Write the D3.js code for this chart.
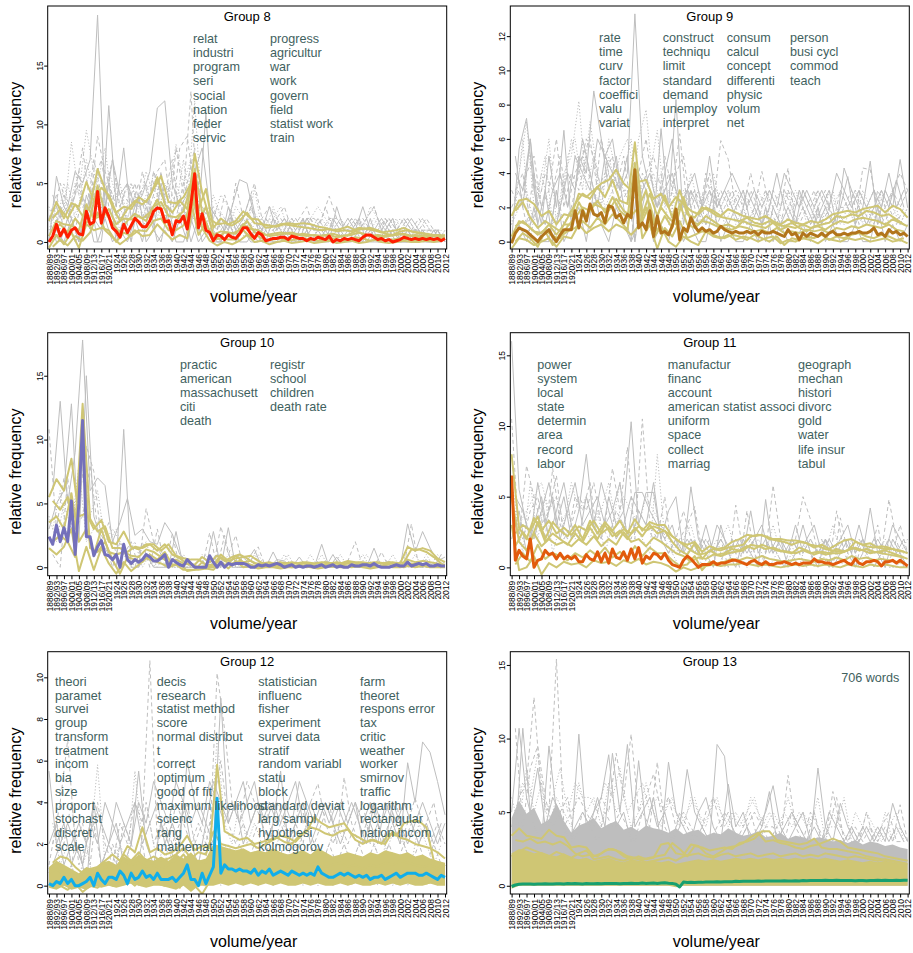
<!DOCTYPE html>
<html>
<head>
<meta charset="utf-8">
<script src="https://cdn.jsdelivr.net/npm/d3@7"></script>
<style>
body { margin: 0; background: #fff; }
svg { font-family: "Liberation Sans", Arial, Helvetica, sans-serif; }
</style>
</head>
<body>
<div id="my_dataviz"></div>
<script>
// x categories: early volumes, then single years
var volumes = ["1888/89","1890/91","1892/93","1894/95","1896/97","1898/99","1900/01","1902/03","1904/05",
  "1906/07","1908/09","1910/11","1912/13","1914/15","1916/17","1918/19","1920/21","1922/23"];
var years = ["1924","1925","1926","1927","1928","1929","1930","1931","1932","1933","1934","1935","1936","1937",
  "1938","1939","1940","1941","1942","1943","1944","1945","1946","1947","1948","1949","1950","1951","1952","1953",
  "1954","1955","1956","1957","1958","1959","1960","1961","1962","1963","1964","1965","1966","1967","1968","1969",
  "1970","1971","1972","1973","1974","1975","1976","1977","1978","1979","1980","1981","1982","1983","1984","1985",
  "1986","1987","1988","1989","1990","1991","1992","1993","1994","1995","1996","1997","1998","1999","2000","2001",
  "2002","2003","2004","2005","2006","2007","2008","2009","2010","2011","2012"];
var categories = volumes.concat(years);

// ---------- Group 8 ----------
var g8Ticks = [0, 5, 10, 15];
var g8Words = [["relat","industri","program","seri","social","nation","feder","servic"],
  ["progress","agricultur","war","work","govern","field","statist work","train"]];
var g8Mean = [0.0,0.5,1.5,0.5,1.1,0.4,1.0,1.2,0.7,0.6, 2.6,1.5,1.7,4.3,1.6,2.9,2.2,1.2,0.9,0.4,
  1.5,0.8,1.4,2.0,1.7,1.3,1.3,1.8,2.6,2.9, 2.8,1.7,1.8,0.6,1.8,1.7,2.2,1.1,3.2,5.8,
  1.2,2.4,1.0,0.8,0.1,0.6,0.5,0.2,0.6,0.4, 0.3,0.7,1.2,1.2,0.7,0.3,0.8,0.6,0.1,0.2,
  0.3,0.3,0.4,0.4,0.2,0.5,0.4,0.3,0.3,0.1, 0.3,0.2,0.4,0.3,0.2,0.5,0.0,0.2,0.1,0.3,
  0.2,0.3,0.2,0.1,0.4,0.6,0.6,0.4,0.2,0.3, 0.1,0.2,0.0,0.1,0.2,0.4,0.3,0.2,0.3,0.2,
  0.3,0.2,0.3,0.2,0.3,0.1,0.3];
var g8KhakiEven = [
  [1.8,3.4,2.0,3.3,3.0,5.1,3.5,4.6,4.0,2.5, 3.0,2.8,3.8,3.4,4.5,5.6,3.4,3.3,3.8,5.0, 2.8,4.5,1.2,2.0,1.5,1.8,2.6,2.0,1.9,1.2,
   1.3,1.5,1.6,1.5,1.6,1.5,1.3,1.2,1.0,1.1, 1.3,1.0,1.1,1.2,1.0,0.7,0.6,0.9,1.0,0.8, 0.7,0.6,0.5,0.4],
  [0.5,1.8,1.5,1.4,1.0,3.2,2.0,2.2,2.8,1.5, 2.0,1.9,2.2,1.8,3.0,3.4,2.2,2.1,2.6,4.8, 1.6,3.0,0.6,0.9,0.8,0.7,1.5,1.1,1.0,0.6,
   0.7,0.8,0.7,0.6,0.7,0.6,0.5,0.6,0.7,0.5, 0.6,0.9,0.7,0.5,0.6,0.5,0.6,0.7,0.5,0.6, 0.5,0.6,0.5,0.6],
  [-0.5,0.6,-0.2,0.8,-0.5,1.5,1.0,1.2,1.0,0.0, 0.8,0.5,1.0,0.9,1.8,2.0,1.0,1.0,1.4,3.5, 0.6,1.6,0.2,0.3,0.2,0.2,1.0,0.4,0.5,0.1,
   0.2,0.3,0.1,0.2,0.3,0.2,0.1,0.2,0.3,0.1, 0.2,0.4,0.3,0.1,0.2,0.1,0.2,0.3,0.2,0.1, 0.2,0.1,0.2,0.3]];
var g8KhakiOdd = [
  [2.0,2.8,2.0,3.2,2.2,3.0,6.2,4.5,3.0,1.8, 2.8,3.5,3.2,3.8,5.5,3.2,2.5,3.5,2.8,7.5, 4.2,2.0,1.5,1.6,1.4,1.8,2.5,1.6,1.5,1.4,
   1.3,1.5,1.4,1.3,1.2,1.1,1.0,1.1,0.9,1.0, 0.9,1.2,1.1,1.0,0.8,0.9,1.0,1.2,0.9,0.8, 0.7,0.6,0.6],
  [-0.4,0.2,-0.3,0.5,0.1,0.8,2.5,1.0,0.4,-0.2, 0.3,1.0,0.5,0.6,1.5,0.8,0.2,0.6,0.3,4.0, 1.2,0.1,-0.3,0.0,-0.2,0.1,0.6,0.0,0.1,-0.2,
   0.0,0.1,-0.1,0.0,0.1,-0.1,0.0,0.1,-0.1,0.0, 0.1,-0.1,0.0,0.2,0.0,-0.1,0.0,0.1,0.0,0.0, 0.1,0.0,0.1],
  [1.0,1.5,0.8,2.0,1.2,2.0,4.8,2.5,1.6,0.8, 1.8,2.4,2.0,2.5,3.6,2.0,1.0,2.3,1.6,6.2, 2.5,0.9,0.4,0.8,0.7,1.0,1.8,0.8,0.7,0.5,
   0.6,0.7,0.8,0.6,0.5,0.6,0.5,0.6,0.4,0.5, 0.6,0.8,0.6,0.5,0.4,0.5,0.6,0.7,0.5,0.4, 0.4,0.5,0.3]];
var g8GrayEven = [
  [0,5.6,3,2,0,4,2,1,11.6,3, 8,2,4,3,1,5,2,1,3,0, 2,11,1,0,3,1,2,4,1,0, 2,1,0,1,2,0,1,0,2,1, 0,1,3,1,0,1,2,0,1,0, 1,0,1,0],
  [2,0,4,3,5,2,7,4,2,5, 3,0,4,5,2,6,1,8,4,12.8, 1,3,0,2,1,5,2,1,0,2, 1,0,2,1,0,1,2,1,0,1, 2,1,0,1,0,2,1,0,1,0, 1,0,0,1],
  [1,3,2,8.5,4,9.5,6,3,5,2, 4,5,3,2,6,3,4,8.3,5,7, 3,1,2,4,3,2,1,3,2,1, 2,3,1,2,1,2,3,2,1,2, 1,2,1,3,2,1,2,1,2,1, 2,1,1,0],
  [0,1,0,2,0,3,0,0,5,0, 2,0,4,0,1,0,3,0,0,2, 0,1,0,0,2,0,1,0,0,1, 0,0,1,0,2,0,0,1,0,0, 1,0,0,2,0,0,1,0,0,1, 0,0,1,0],
  [2,4,1,3,6,2,5,7,3,1, 4,3,5,2,6,4,3,2,5,3, 1,2,3,1,2,2,1,3,1,2, 1,2,1,2,1,2,1,3,1,1, 2,1,2,1,1,2,1,1,2,1, 1,1,0,1],
  [3,1,5,2,3,7,4,2,6,4, 2,5,3,6,4,2,5,3,7,2, 2,1,4,2,1,3,2,1,2,1, 3,1,2,1,2,1,2,1,1,2, 1,2,1,1,2,1,1,2,1,1, 2,1,1,0]];
var g8GrayOdd = [
  [4,2,3,6,5,7,19.3,3,7,4, 5,3,4,6,11.4,12,5,3,4,6, 8,3,2,1,3,5.3,5,2,1,3, 1,2,1,0,2,1,1,0,3,1, 1,2,0,1,2,1,0,1,2,1, 0,1,0],
  [0,3,2,4,8,3,9,6,4,2, 3,5,2,4,6,7,2,8,9,4, 3,2,1,4,2,1,3,5,2,1, 2,3,1,2,3,1,2,3.9,2,1, 2,1,2,3,1,2,1,2,1,2, 1,1,0],
  [3,1,5,2,4,6,5,8,3,1, 2,4,3,5,4,2,6,4,3,12, 2,1,3,2,1,2,1,4.6,1,2, 1,0,2,1,2,1,0,2,1,0, 1,2,1,0,1,1,2,0,1,1, 0,1,1],
  [1,0,2,0,1,4,0,2,0,1, 0,2,0,3,0,1,0,2,0,3, 0,1,0,0,2,0,0,1,0,0, 0,1,0,0,1,0,0,0,1,0, 0,1,0,0,0,1,0,0,0,1, 0,0,0],
  [2,5,3,1,4,2,6,4,7,3, 5,2,6,3,5,4,7,2,5,8, 2,3,2,1,2,1,2,1,2,3, 2,1,2,1,2,2,1,2,2,1, 2,1,2,3,1,2,1,2,1,1, 2,1,1],
  [1,3,2,5,3,1,4,2,3,5, 2,4,1,3,2,5,3,4,2,4, 1,2,1,2,1,0,1,2,1,1, 1,2,1,0,1,1,2,1,0,1, 1,0,1,2,1,0,1,1,0,1, 1,0,1]];

// ---------- Group 9 ----------
var g9Ticks = [0, 2, 4, 6, 8, 10, 12];
var g9Words = [["rate","time","curv","factor","coeffici","valu","variat"],
  ["construct","techniqu","limit","standard","demand","unemploy","interpret"],
  ["consum","calcul","concept","differenti","physic","volum","net"],
  ["person","busi cycl","commod","teach"]];
var g9Mean = [-0.1,0.5,0.8,0.7,0.6,0.4,0.2,0.0,0.3,0.5, 0.7,0.3,0.0,0.4,0.7,0.7,0.7,1.8,0.8,1.8,
  1.2,2.2,1.6,1.5,1.7,1.1,2.1,2.0,1.4,1.6, 1.1,1.6,1.4,4.2,0.8,1.1,0.7,1.8,0.3,1.5,
  0.5,0.6,0.4,0.9,1.9,0.1,0.8,0.6,1.4,0.9, 0.6,0.8,0.6,0.7,0.5,0.6,0.9,0.7,0.6,0.5,
  0.6,0.5,0.5,0.6,0.5,0.6,0.4,0.6,0.5,0.5, 0.6,0.5,0.4,0.3,0.7,0.4,0.5,0.1,0.5,0.3,
  0.5,0.4,0.3,0.5,0.3,0.5,0.6,0.4,0.4,0.5, 0.4,0.5,0.5,0.6,0.5,0.5,0.6,0.8,0.4,0.5,
  0.3,0.7,0.5,0.6,0.4,0.5,0.3];
var g9KhakiEven = [
  [1.5,2.4,2.5,2.2,1.5,1.8,1.0,1.6,1.5,2.8, 2.6,3.0,3.4,3.6,4.2,3.4,3.0,3.5,3.6,2.5, 2.8,2.0,2.6,2.2,1.8,1.6,2.0,1.8,1.5,1.9,
   1.7,1.5,1.4,1.3,1.5,1.2,1.0,1.3,1.1,1.0, 1.2,1.1,1.3,1.6,1.7,1.8,1.7,1.9,2.0,2.1, 1.7,2.1,1.9,1.4],
  [0.3,1.2,1.0,0.6,0.5,1.0,0.4,1.0,1.0,2.3, 1.5,2.2,2.0,1.8,2.5,1.8,1.5,2.0,3.0,1.0, 2.0,1.4,1.0,2.6,1.2,1.0,1.5,1.2,0.9,1.0,
   0.8,1.2,1.0,0.9,0.8,1.1,0.7,0.9,0.8,1.0, 0.8,0.9,0.7,1.0,1.2,1.1,1.3,1.4,1.3,1.2, 1.0,1.3,1.1,0.9],
  [-0.4,0.2,0.1,-0.2,0.0,0.2,-0.3,0.3,0.2,1.0, 0.5,0.8,1.0,0.6,1.0,0.8,0.4,0.9,2.0,0.2, 0.9,0.0,-0.3,0.3,0.0,-0.2,0.6,0.3,0.2,0.4,
   0.1,0.3,0.2,0.0,0.2,0.3,-0.1,0.1,0.0,0.2, 0.1,-0.1,0.2,0.1,0.0,0.2,0.1,0.2,0.0,0.1, 0.2,0.0,0.1,-0.1]];
var g9KhakiOdd = [
  [1.8,2.3,1.4,0.8,1.2,0.9,0.6,1.4,2.2,2.8, 2.5,3.2,2.6,3.6,2.4,2.2,5.8,1.6,2.8,1.5, 2.7,1.4,3.0,1.6,1.4,2.0,1.8,1.5,1.4,1.3,
   1.2,1.4,1.1,1.0,1.2,1.0,0.9,1.1,0.8,0.6, 0.9,1.0,1.1,1.5,1.4,1.6,1.5,1.8,1.7,1.5, 1.6,1.3,1.0],
  [0.0,0.5,0.2,-0.3,0.6,-0.2,0.3,0.6,0.8,1.2, 0.8,1.4,1.0,1.6,1.2,0.7,3.6,0.2,1.0,-0.4, 0.8,0.3,1.2,0.2,0.4,0.6,0.5,0.3,0.2,0.4,
   0.3,0.1,0.4,0.2,0.0,0.3,-0.2,0.2,0.1,0.3, 0.2,0.4,0.1,0.3,0.2,0.4,0.5,0.3,0.2,0.4, 0.3,0.1,0.2],
  [0.9,1.2,0.8,0.4,0.7,0.3,0.2,0.9,1.4,2.0, 1.8,2.4,1.7,2.6,1.8,1.4,4.6,1.2,2.2,0.6, 1.5,0.8,2.2,1.0,0.8,1.2,1.1,0.9,0.8,0.7,
   0.9,0.8,0.6,0.7,0.5,0.8,0.5,0.6,0.5,0.7, 0.6,0.7,0.5,0.8,0.7,0.9,0.8,1.0,0.9,0.8, 1.0,0.7,0.6]];
var g9GrayEven = [
  [0,5.4,7.2,3,1,5,2,6.5,1,5, 4,8.8,6,3,5,2,0,4,3,1, 6.6,2,8.3,1,3,2,1,3,2,1, 2,3,1,2,0,2,1,2,1,3, 2,1,2,1,2,3.8,1,2,4.7,1, 3,2,4.8,2],
  [2,3,1,4,2,0,3,1,2,4, 6,5,3,4,2,3,3,2,4,5, 3,2,4,5,2,3,1,2,5.9,4.8, 2,1,3,2,1,3,2,4.3,1,2, 1,2,3,1,2,2,1,4.3,4.2,2, 1,3,2,3],
  [1,4,7,2,3,6,1,4,5,8.2, 3,5,2,6,4,3,2,6,7.7,3, 4,1,3,2,4,2,3,1,2,3, 1,2,1,3,2,1,2,3,1,2, 1,2,1,3,1,2,3,1,2,1, 2,3,1,2],
  [0,1,0,2,0,0,3,0,1,2, 0,3,1,0,2,1,0,1,3,0, 1,0,2,0,1,0,0,2,0,1, 0,0,1,0,2,0,1,0,0,1, 0,2,0,1,0,0,1,0,0,2, 0,1,0,1],
  [3,2,4,5,2,3,6,2,4,3, 5,2,6,4,3,5,2,4,6,3, 2,4,3,2,3,1,4,2,3,2, 3,2,4,2,3,2,1,3,2,3, 2,3,2,1,3,2,3,2,1,3, 2,3,4,3],
  [1,2,3,1,4,2,1,3,6,4, 5,3,2,5,3,4,6,2,3,4, 2,3,1,3,2,3,2,4,2,3, 2,3,2,1,3,2,3,2,3,2, 1,3,2,2,3,2,1,3,2,2, 3,2,1,2]];
var g9GrayOdd = [
  [5,2,6,1,3,0,2,4,3,6, 4,2,5,6,3,4,13.3,5,3,2, 4,6,2,3,1,2,5,2,3,2, 1,3,2,1,2,4,2,1,3,2, 1,2,3,1,4.3,3,2,1,2,3, 2,3.6,2],
  [3,4,1,2,4,3,5,2,4,5, 6,3,4,5,2,3,0,4,3,2, 5,3,6.3,2,3,2,4,1,2,3, 2,1,2,4.1,2,1,3,2,1,2, 3,1,2,1,2,3,1,2,3,1, 2,1,2],
  [2,6,0,3,5,1,2,5,6,3, 7,4,2,3,5,6,4,3,4,6.5, 2,3,1,2,3,1,2,3,1,2, 3,1,2,1,3,2,1,2,3,1, 2,1,3,2,1,2,3,2,1,3, 1,2,3],
  [4,3,6,2,1,3,4,2,5,4, 3,6,5,4,3,5,0,3,4,2, 3,4,2,3,4,2,3,2,3,4, 3,2,3,2,3,2,4,3,2,3, 2,3,2,4,3,2,3,2,3,2, 4,2,3]];

// ---------- Group 10 ----------
var g10Ticks = [0, 5, 10, 15];
var g10Words = [["practic","american","massachusett","citi","death"],
  ["registr","school","children","death rate"]];
var g10Mean = [2.4,1.8,3.3,2.0,3.1,2.0,5.2,1.0,5.0,11.5, 2.4,2.4,0.9,1.6,2.1,1.0,0.9,0.6,1.0,0.0,
  1.8,0.6,0.3,0.6,0.4,0.6,1.0,0.8,0.5,0.5, 0.7,1.0,0.0,0.6,0.4,0.2,0.1,0.6,0.3,0.0,
  0.0,0.0,0.0,0.9,0.4,0.0,0.4,0.0,0.3,0.2, 0.3,0.3,0.3,0.2,0.0,0.0,0.2,0.1,0.2,0.1,
  0.2,0.3,0.2,0.0,0.1,0.2,0.0,0.1,0.0,0.1, 0.1,0.0,0.1,0.2,0.0,0.1,0.2,0.0,0.1,0.0,
  0.0,0.2,0.1,0.1,0.2,0.2,0.1,0.3,0.1,0.0, 0.0,0.0,0.1,0.2,0.1,0.1,0.4,0.1,0.2,0.3,
  0.2,0.3,0.1,0.1,0.2,0.1,0.1];
var g10KhakiEven = [
  [5.5,6.9,6.0,8.5,4.0,4.2,3.0,3.7,2.0,1.8, 2.8,1.6,1.4,1.8,1.8,1.3,1.8,0.9,0.7,0.6, 0.6,0.2,0.2,1.0,0.5,0.7,0.8,0.9,0.5,0.2,
   0.3,0.4,0.3,0.3,0.4,0.3,0.3,0.4,0.3,0.3, 0.5,0.4,0.4,0.3,0.4,0.3,0.4,0.3,1.6,1.3, 1.5,1.3,0.7,0.4],
  [3.5,4.0,3.0,5.8,2.0,3.0,1.0,3.0,1.2,1.0, 1.2,0.9,0.8,1.4,1.2,0.8,0.4,0.6,0.3,0.2, 0.0,0.1,0.0,0.8,0.3,0.9,0.4,0.5,0.2,0.1,
   0.2,0.1,0.2,0.1,0.3,0.2,0.1,0.2,0.1,0.2, 0.3,0.2,0.1,0.2,0.1,0.2,0.3,0.1,0.6,0.4, 0.5,0.4,0.3,0.2],
  [1.5,1.0,1.6,3.0,-0.3,1.6,-0.2,1.5,0.3,-0.5, 0.4,-0.3,0.2,0.7,0.5,0.3,0.0,0.2,-0.2,-0.2, -0.2,-0.1,-0.2,0.4,-0.1,0.5,0.0,0.1,-0.1,0.0,
   0.0,-0.1,0.0,0.0,0.1,0.0,-0.1,0.0,0.1,0.0, 0.0,0.1,0.0,-0.1,0.0,0.1,0.0,0.0,0.1,0.0, 0.1,0.0,0.0,0.0]];
var g10KhakiOdd = [
  [5.2,4.5,5.5,3.0,12.8,3.8,2.8,3.2,1.5,1.5, 1.2,1.6,1.5,1.8,1.3,1.8,1.0,0.7,0.3,0.2, 0.8,0.4,0.9,0.5,0.8,1.0,0.7,0.3,0.3,0.4,
   0.2,0.3,0.4,0.3,0.4,0.3,0.4,0.3,0.4,0.3, 0.4,0.3,0.3,0.4,0.3,0.4,0.3,0.4,1.4,1.4, 1.2,0.8,0.3],
  [2.0,2.5,2.0,0.8,10.5,1.5,1.2,2.0,0.6,-0.5, 0.8,0.6,0.4,1.0,0.6,1.2,0.2,0.3,-0.3,-0.2, 0.4,0.0,0.5,0.2,0.3,0.5,0.3,0.1,0.0,0.1,
   0.0,0.1,0.0,0.2,0.0,0.1,0.0,0.1,0.0,0.1, 0.0,0.1,0.2,0.0,0.1,0.0,0.1,0.0,0.3,0.2, 0.2,0.1,0.0]];
var g10GrayEven = [
  [3,5,6,12.8,2,15,4,2,1,0, 10.8,0,0,1,0,0,0,2.8,0,0, 0,0,2.8,0,3.1,0,0,0,0,0, 1.2,0,0,0,0,0,0,0,1.0,0, 0,0,0,0,0,0,0,0,3.4,1.2, 2.8,1.5,0.5,0.8],
  [10.8,3,7,4,5,9.5,7.5,2,3.5,1, 1,2,0,4.6,2,1,0,1,0.5,0, 0,0,0,3.2,1,2.5,0,0.5,1.6,0, 0,0.5,0,0,0.4,0,0,0.5,0,0, 0.5,2.0,0,0.4,0,0.6,0,0.3,0,0.2, 0,0.5,0,0.5],
  [4,2,5,3,8,2,3,4,2,3, 1,0,1,2,0,1,0,0,1,0, 0,1,0,0,1,0,0,0,1,0, 0,0,1,0,0,1,0,0,0,1, 0,0,1,0,0,0,1,0,0,1, 0,0,1,0]];
var g10GrayOdd = [
  [6,13,5,9,17.8,6,7,6.4,2,3.5, 5.4,2.5,3,2,1.8,3.5,2.6,1,0.5,0, 0,0,1,0.5,0,1,0.5,1.4,0,0, 0.6,0.5,0,0.8,0,0,1.8,0,0.8,0, 0,0.3,0,1.5,0,0.5,0,0.8,0,0.3, 0.6,0,1.0],
  [1,0,7,3,4,8,3,2,0,2, 1,0,2,0,3,0,2.6,0,0,0, 0,2.7,0,2.5,0,0,0,0,0,0, 0,0,0,0,0,0,0,0,0,0, 0,0,0,0,1.2,0,0,0,3.4,0, 0,0,1],
  [3,6,2,5,9,4,6,2,3,2, 1,2,0,1,0,1,0,0,0,0, 1,0,0,0,1,0,0,1,0,0, 0,1,0,0,0,0,1,0,0,0, 0,0,1,0,0,0,0,1,0,0, 1,0,0]];

// ---------- Group 11 ----------
var g11Ticks = [0, 5, 10, 15];
var g11Words = [["power","system","local","state","determin","area","record","labor"],
  ["manufactur","financ","account","american statist associ","uniform","space","collect","marriag"],
  ["geograph","mechan","histori","divorc","gold","water","life insur","tabul"]];
var g11Mean = [6.5,0.5,1.2,0.8,0.6,2.0,0.0,0.5,0.6,1.2, 0.9,1.0,0.6,1.0,0.6,0.8,0.6,0.8,0.4,0.4,
  0.9,0.6,0.5,1.1,0.4,1.0,0.3,1.3,0.7,0.6, 1.1,0.5,1.3,0.6,1.4,0.3,0.8,0.6,1.0,0.9,
  0.6,1.0,0.5,0.2,0.1,0.0,0.5,0.8,0.6,0.3, 0.0,0.2,0.2,0.2,0.4,0.2,0.3,0.3,0.4,0.5,
  0.5,0.4,0.3,0.2,0.4,0.5,0.3,0.2,0.4,0.2, 0.2,0.3,0.3,0.4,0.3,0.2,0.3,0.2,0.3,0.3,
  0.3,0.6,0.4,0.4,0.3,0.3,0.2,0.3,0.4,0.5, 0.3,0.2,0.6,0.3,0.2,0.4,0.4,0.5,0.4,0.1,
  0.4,0.4,0.5,0.3,0.5,0.3,0.1];
var g11KhakiEven = [
  [8.0,2.8,2.0,3.5,2.6,3.3,2.4,2.8,2.3,2.9, 2.6,3.3,2.4,2.8,2.2,2.7,2.4,2.9,2.6,2.9, 2.7,2.4,2.0,1.6,1.2,0.9,1.0,1.3,1.2,1.4,
   1.5,1.6,2.2,2.3,2.2,2.0,2.0,1.9,1.9,1.8, 1.6,1.5,1.3,1.2,1.1,1.2,1.8,1.6,1.7,1.4, 1.3,1.3,1.2,1.0],
  [5.0,1.8,1.2,2.4,1.5,2.0,1.6,1.8,1.5,2.0, 1.6,2.2,1.5,2.0,1.6,2.5,1.8,2.0,1.5,2.1, 1.8,1.4,1.0,0.8,0.4,0.7,0.6,0.9,0.8,1.0,
   1.1,1.2,1.6,1.5,1.3,1.4,1.2,1.1,1.0,1.2, 1.0,1.1,0.9,1.0,1.0,1.2,1.4,1.2,1.0,1.1, 1.2,1.0,0.8,0.6],
  [3.0,-0.2,0.0,0.8,-0.5,0.3,0.0,0.4,0.2,0.3, 0.0,0.5,0.3,0.4,0.1,0.5,0.3,0.6,0.2,0.4, 0.3,0.1,-0.3,0.0,-0.2,0.0,0.1,0.2,0.1,0.2,
   0.2,0.3,0.2,0.1,0.2,0.1,0.0,0.1,0.2,0.1, 0.2,0.1,0.2,0.1,0.0,0.2,0.1,0.0,0.2,0.1, 0.2,0.1,0.0,0.0]];
var g11KhakiOdd = [
  [1.5,2.5,1.8,3.2,1.8,2.4,2.0,1.6,2.4,1.8, 2.8,2.0,3.0,2.2,2.6,2.0,2.8,2.2,3.0,2.4, 2.6,1.8,1.2,0.9,1.7,0.6,1.2,0.9,1.0,1.3,
   1.2,1.5,1.3,1.6,1.4,1.2,1.1,1.0,1.4,1.2, 0.9,1.1,1.0,1.3,1.1,1.4,1.2,1.3,1.1,1.0, 0.9,0.8,0.7],
  [0.2,1.0,0.4,1.6,0.6,1.0,0.8,0.5,1.0,0.7, 1.2,0.8,1.4,0.7,1.1,0.6,1.5,0.8,1.4,1.0, 1.0,0.5,0.1,0.2,0.8,-0.2,0.4,0.3,0.4,0.6,
   0.5,0.7,0.6,0.8,0.6,0.5,0.4,0.5,0.6,0.5, 0.4,0.6,0.5,0.7,0.5,0.8,0.6,0.7,0.5,0.6, 0.5,0.4,0.3],
  [2.4,3.0,2.6,3.6,2.0,3.2,2.6,2.2,3.0,2.0, 3.3,2.4,3.2,2.6,3.3,2.4,3.4,2.6,3.2,3.0, 3.0,2.2,1.8,1.6,1.8,1.1,1.5,1.3,1.4,1.8,
   2.0,2.3,2.2,2.3,2.0,1.9,1.8,1.6,1.8,1.7, 1.4,1.6,1.3,1.6,1.9,2.0,1.7,1.5,1.4,1.5, 1.4,1.2,1.1]];
var g11GrayEven = [
  [16,5.5,3,2,4,6,3,5,2,4, 8,3,2,5,3,4,10.3,3,5.3,5.3, 2,4,5,1,5.7,2,1,0,3,1, 0,2,1,0,4.8,1,2,0,1,3, 1,0,2,0,1,2,0,1,4.2,1, 0,2,1,0],
  [10.5,2,7.2,5,3,4,6.5,2,3,5, 4,6,3,2,4,3,2,4,3,2, 3,1,2,4,2,1,2,1,2,0, 4.4,1,2,0,1,5.8,2,1,2,5, 3.4,1,2,0,3.5,1,0,2,1,3, 0,1,3,1],
  [6,3,4,5,6,4,5,3,6,4, 5,3,4,6,3,5,4,3,5,4, 3,2,1,2,3,1,2,1,2,3, 1,2,1,2,1,3,1,2,1,1, 2,1,1,3,1,2,1,2,1,1, 2,1,1,2],
  [2,4,1,3,5,2,4,6,3,2, 5,3,6,4,2,3,5,4,3,6, 2,1,2,1,2,1,3,1,2,1, 2,1,4,1,2,1,2,1,3,1, 2,1,2,1,2,3,1,2,1,2, 1,3,2,1]];
var g11GrayOdd = [
  [3,2,4,5,2,7,3,2,5,4, 6,2,3,7,4,8.5,2,10.5,3,2, 5,1,2,3,4.3,1,2,0,1,2, 0,4,1,0,2,1,0,2,1,0, 1,2,0,4,1,0,2,1,0,1, 4.8,2,0],
  [4,1,6,2,5,1,3,4,2,3, 2,4,1,3,6,2,3,2,1,8, 2,1,0,1,2,0,1,2,0,1, 1,0,2,1,0,1,0,1,0,2, 0,1,0,1,0,2,0,1,0,1, 0,0,1],
  [5,4,2,6,3,5,2,4,6,3, 4,5,3,4,6,2,5.3,5.3,4,3, 2,3,1,2,1,2,1,3,2,1, 2,1,2,3,1,2,1,2,1,2, 3,1,2,1,2,1,3,1,2,1, 2,1,2]];

// ---------- Group 12 ----------
var g12Ticks = [0, 2, 4, 6, 8, 10];
var g12Words = [["theori","paramet","survei","group","transform","treatment","incom","bia","size","proport","stochast","discret","scale"],
  ["decis","research","statist method","score","normal distribut","t","correct","optimum","good of fit","maximum likelihood","scienc","rang","mathemat"],
  ["statistician","influenc","fisher","experiment","survei data","stratif","random variabl","statu","block","standard deviat","larg sampl","hypothesi","kolmogorov"],
  ["farm","theoret","respons error","tax","critic","weather","worker","smirnov","traffic","logarithm","rectangular","nation incom"]];
var g12Mean = [0.1,0.0,0.2,0.1,0.4,0.1,0.3,0.0,0.0,0.1, 0.2,0.4,0.0,0.6,0.3,0.1,0.4,0.4,0.3,0.7,
  0.5,0.1,0.6,0.3,0.4,0.7,0.4,0.5,0.3,0.6, 0.3,0.3,0.3,0.4,0.2,0.4,0.6,1.0,0.3,0.3,
  0.0,0.6,0.1,0.5,0.9,4.2,0.6,1.0,0.8,0.8, 0.7,0.8,0.7,0.7,0.6,0.8,0.5,0.7,0.6,0.8,
  0.5,0.6,0.7,0.6,0.5,0.7,0.6,0.5,0.6,0.5, 0.6,0.5,0.9,0.6,0.5,0.4,0.4,0.5,0.6,0.5,
  0.6,0.5,0.4,0.5,0.4,0.5,0.3,0.4,0.4,0.5, 0.3,0.4,0.5,0.6,0.4,0.5,0.6,0.6,0.6,0.5,
  0.5,0.6,0.5,0.4,0.3,0.5,0.4];
var g12KhakiLow = [-0.1,-0.2,0.0,-0.2,-0.1,-0.2,0.0,-0.1,0.0,-0.1, 0.0,0.1,0.0,-0.1,0.0,0.0,-0.1,-0.2,0.0,-0.3,
  0.0,0.0,0.0,0.1,0.0,0.1,0.0,0.1,0.0,0.1, 0.0,0.1,0.0,0.0,0.1,0.0,0.1,0.0,0.0,0.1,
  0.0,0.1,0.0,0.0,0.1,0.0,0.1,0.0,0.1,0.0, 0.0,0.1,0.0,0.0];
var g12KhakiHigh = [0.9,1.2,1.0,0.8,0.6,0.9,0.8,1.1,1.2,1.0, 1.4,1.2,1.5,1.3,1.2,1.4,1.2,1.5,1.3,1.6,
  1.2,1.3,2.0,1.9,1.8,1.7,1.8,1.6,1.7,1.6, 1.8,1.6,1.5,1.6,1.7,1.5,1.8,1.6,1.4,1.5,
  1.6,1.5,1.4,1.6,1.5,1.7,1.6,1.5,1.6,1.4, 1.5,1.3,1.2,1.1];
var g12KhakiEven = [
  [0.6,0.8,0.5,0.6,0.2,0.4,0.5,0.7,1.0,0.7, 1.2,1.0,1.1,0.9,1.0,0.8,1.0,1.1,1.5,1.0, 1.2,1.1,1.3,1.2,1.1,1.0,1.2,1.0,1.1,0.9,
   1.1,1.0,0.9,1.2,1.1,1.0,1.1,0.9,1.0,1.1, 0.9,1.0,0.8,1.0,0.9,1.1,1.0,1.2,1.1,1.0, 0.9,1.0,0.8,1.0],
  [0.8,1.0,0.7,0.5,0.5,0.6,0.4,0.8,1.0,0.8, 1.5,1.2,1.6,1.2,1.4,1.2,1.3,1.5,1.8,1.3, 1.6,1.5,2.6,2.0,1.9,1.8,1.9,2.0,1.8,2.0,
   2.2,2.4,2.3,2.1,2.5,2.8,2.7,2.5,2.4,2.6, 2.7,2.2,2.0,2.2,2.1,2.0,2.6,2.3,2.2,2.0, 1.9,1.8,1.6,1.3]];
var g12KhakiOdd = [
  [1.1,1.4,1.3,0.9,0.6,0.8,0.9,1.2,1.5,1.2, 1.9,1.6,2.8,1.6,1.8,1.5,1.6,1.9,2.4,1.7, 1.9,1.8,5.8,2.6,2.4,2.2,2.3,2.0,2.1,2.2,
   2.3,2.1,2.0,2.4,2.6,3.3,3.0,2.8,2.9,3.0, 2.5,2.3,2.1,2.2,2.0,2.5,2.4,3.0,3.1,3.1, 2.8,1.2,1.0],
  [-0.1,0.0,-0.2,0.1,-0.3,0.0,-0.1,0.2,0.0,0.1, 0.3,0.0,0.4,0.2,0.1,0.0,0.2,-0.1,0.5,0.0, -0.4,0.2,3.2,0.5,0.3,0.4,0.2,0.3,0.2,0.4,
   0.3,0.2,0.3,0.4,0.2,0.3,0.2,0.1,0.3,0.2, 0.1,0.3,0.2,0.1,0.2,0.3,0.1,0.2,0.3,0.2, 0.1,0.2,0.1]];
var g12GrayEven = [
  [5.5,2,3,1,2,0,4,1,2,3, 1,2,5.5,2,1,3,2,1,4,2, 1,3,2,9,3,4,2,3,4,2, 3,5.5,2,3,4,2,3,4,3,2, 3,4,2,3,2,4,3,2,5.9,4, 6.9,6.4,5,3.4],
  [1,3,2,4,1,2,3,1,2,1, 3,2,1,4,2,3,2,4,3,2, 3,2,4,6,3,2,3,2,3,4, 2,3,2,3,2,4,4.9,3,2,3, 2,3,4,2,3,2,3,2,3,4.2, 3,2,3,2],
  [0,1,0,1,0,2,0,1,0,2, 0,1,0,0,1,0,2,0,1,0, 1,0,1,0,2,1,0,1,0,1, 0,1,0,2,0,1,0,1,0,1, 0,1,0,1,0,2,0,1,0,1, 0,1,0,1],
  [2,3,1,2,3,2,4,3,2,4, 3,2,4,3,5,4,3,5,4,3, 4,3,5,4,3,4,5,3,4,3, 4,3,4,5,3,4,3,4,3,4, 3,4,3,4,3,2,4,3,2,3, 4,3,2,3]];
var g12GrayOdd = [
  [2,4,7,2,3,1,4,2,1,3, 2,4,3,10.8,2,3,2,3,4,2, 3,2,10.2,7.5,4,3,5,4,3,2, 4,3,2,4,3,2,3,4,2,5.2, 3,2,3,4,2,3,4,2,3,2, 3,4,2],
  [3,1,2,0,1,2,5.8,1,0,2, 1,5.5,2,3,1,2,3,1,2,0, 2,1,7.2,3,2,4,2,3,2,1, 2,3,1,2,3,2,1,2,3,2, 1,2,3,2,1,2,3,2,1,3, 2,1,2],
  [1,2,3,2,1,3,2,4,3,2, 3,4,2,3,4,2,3,2,6,4, 3,5,4,3,4,3,4,5,3,4, 3,4,3,5,4,3,4,3,4,3, 4,3,2,4,3,4,3,4,3,2, 3,2,3],
  [0,1,0,2,1,0,1,0,2,1, 0,1,2,0,1,0,1,2,1,0, 0,0,1,2,1,2,1,2,1,2, 1,2,1,2,1,2,1,2,1,2, 1,2,1,2,1,2,1,2,1,2, 1,2,1]];

// ---------- Group 13 ----------
var g13Ticks = [0, 5, 10, 15];
var g13Words = [["706 words"]];
var g13Mean = [-0.05,0.05,0.10,0.12,0.12,0.12,0.10,0.12,0.12,0.14, 0.12,0.12,0.14,0.13,0.12,0.15,0.13,0.15,0.14,0.12,
  0.15,0.14,0.13,0.15,0.14,0.16,0.15,0.16,0.15,0.14, 0.16,0.15,0.17,0.16,0.15,0.18,0.16,0.17,0.18,0.16,
  0.18,0.20,0.17,0.16,0.10,-0.08,0.25,0.22,0.24,0.22, 0.24,0.23,0.25,0.26,0.25,0.27,0.26,0.28,0.27,0.28,
  0.30,0.29,0.30,0.31,0.30,0.31,0.32,0.31,0.32,0.33, 0.32,0.33,0.32,0.34,0.33,0.32,0.34,0.33,0.35,0.34,
  0.35,0.36,0.35,0.36,0.37,0.36,0.35,0.37,0.36,0.35, 0.36,0.35,0.34,0.36,0.35,0.34,0.36,0.35,0.37,0.36,
  0.38,0.35,0.36,0.37,0.36,0.38,0.37];
var g13GrayLow = [0,0,0,0,0,0,0,0,0,0, 0,0,0,0,0,0,0,0,0,0, 0,0,0,0,0,0,0,0,0,0, 0,0,0,0,0,0,0,0,0,0, 0,0,0,0,0,0,0,0,0,0, 0,0,0,0];
var g13GrayHigh = [4.6,5.8,4.9,5.3,4.2,4.5,5.6,4.4,3.6,4.1, 4.3,4.6,3.9,4.2,4.4,3.8,4.0,3.7,4.1,3.9,
  3.8,3.6,3.9,3.5,3.7,3.8,3.4,3.6,3.5,3.9, 3.6,3.4,3.5,3.7,3.3,3.4,3.6,3.2,3.4,3.3,
  3.1,3.3,3.2,3.0,3.1,2.9,3.1,2.8,3.0,2.9, 2.7,2.8,2.6,2.5];
var g13KhakiLow = [-0.2,0.0,0.0,0.0,0.0,0.0,0.0,0.0,0.0,0.0, 0.0,0.0,0.0,0.0,0.0,0.0,0.0,0.0,0.0,0.0,
  0.0,0.0,-0.1,0.0,0.0,0.0,0.0,0.0,0.0,0.0, 0.0,0.0,0.0,0.0,0.0,0.0,0.0,0.0,0.0,0.0,
  0.0,0.0,0.0,0.0,0.0,0.0,0.0,0.0,0.0,0.0, 0.0,0.0,0.0,0.0];
var g13KhakiHigh = [2.2,2.5,2.4,2.2,2.3,2.1,2.0,2.2,1.9,1.8, 1.9,1.7,1.8,1.9,1.7,1.6,1.8,1.7,1.6,1.7,
  1.6,1.7,1.5,1.6,1.7,1.8,1.7,1.8,1.7,1.8, 1.9,1.8,1.9,1.8,1.9,1.8,1.9,1.8,1.9,1.8,
  1.9,1.8,1.9,1.8,1.7,1.8,1.7,1.6,1.7,1.6, 1.7,1.6,1.5,1.5];
var g13KhakiEven = [
  [3.4,3.9,3.4,3.3,3.2,3.8,3.4,3.3,2.6,2.7, 2.6,2.0,2.2,2.5,2.4,2.0,1.8,2.0,1.8,1.9, 2.8,2.9,2.2,2.1,2.8,2.7,2.2,2.0,2.3,2.6,
   2.7,2.9,3.3,3.6,3.0,3.1,2.9,2.8,2.6,2.5, 2.7,2.8,3.0,3.2,3.0,2.6,2.5,2.4,2.3,2.2, 2.0,1.9,1.8,1.7],
  [2.0,2.3,2.6,2.4,2.2,2.0,2.3,2.1,1.9,2.2, 2.4,1.8,1.9,2.0,1.8,1.7,1.9,1.8,1.6,1.7, 1.8,1.9,1.7,2.0,2.1,2.2,2.0,1.9,2.1,2.2,
   2.0,2.1,2.2,2.0,2.1,2.2,2.0,2.1,2.2,2.0, 2.1,2.0,2.2,2.1,2.0,1.9,2.0,1.9,1.8,1.7, 1.8,1.7,1.6,1.5]];
var g13KhakiOdd = [
  [3.1,3.0,3.2,2.9,3.0,2.8,3.0,2.7,2.2,2.0, 2.1,2.0,2.4,2.5,2.3,2.0,1.9,1.8,1.9,2.0, 2.1,2.9,2.5,2.0,2.7,2.6,2.4,2.5,2.6,2.5,
   2.9,3.0,3.2,3.7,3.7,3.1,3.0,2.9,2.8,2.9, 3.2,2.6,2.5,2.5,2.4,2.3,2.2,2.0,1.9,1.8, 1.7,1.6,1.5]];
var g13GrayEven = [
  [5,10.7,6,4,3,9.5,5,4,3,10.3, 4,5,6,8.9,4,5,3,8.5,4,6, 3,8.4,5,4,3,5,6,4,3,6.9, 4,5,3,4,5,6.8,4,3,4,5, 3,8,4,3,5.6,4,3,4,3,4, 3,5.6,4,3],
  [4,6,7,12.8,6,5,15.4,4,5,6, 5,4,6,5,9,6,10.3,5,6,7.6, 5,6,4,5,4,3,5,6,4,5, 3,4,5,3,4,4,3,7.5,4,3, 5,4,3,6.4,4,3,4,3,4,3, 4,3,5.5,3],
  [6,4,8,5,7,4,6,5,4,7, 5,6,4,7,5,6,4,5,7,5, 4,6,5,4,6,5,4,6,5,4, 5,4,6,5,4,5,4,6,4,5, 4,6,3,5,4,3,5,4,4,3, 5,3,4,3]];
var g13GrayOdd = [
  [3,10.7,5,8,4,6,5,3,4,5, 4,6,4,9,5,9.6,4,5,6,4, 5,3,4,7.9,5,4,3,9.6,8.8,4, 3,4,3,4,6.4,3,4,5,4,3, 4,3,5,4,3,4,3,4,3,4, 3,4,3],
  [10.7,4,8,9.5,6,4,5,6,3,5, 4,3,5,4,5,4,3,5,4,8.4, 4,3,5,4,3,4,3,4,5,4, 3,4,5,4,3,4,3,5,4,3, 5,3,4,6,3,4,3,5,3,4, 5,3,3],
  [5,7,6,9,5,6,8,5,7,6, 6,5,7,6,8,5,6,7,5,6, 5,6,4,5,6,4,5,6,4,5, 4,5,6,4,5,4,5,4,5,4, 5,3,4,4,6,3,3,5,4,3, 4,5,3]];

// ---------- layout ----------
var fontFamily = '"Liberation Sans", Arial, Helvetica, sans-serif';
var grayColor = "#bebebe", khakiColor = "#cfc674", wordColor = "#3f615e";
var grayDash = [null, "4,3", "1.2,2"];
var boxW = 399;
var colLeft = [47.7, 510.3];
var rowTop = [6, 332.7, 651.7];
var rowH = [243, 243, 242.3];

var panels = [
  {title: "Group 8", col: 0, row: 0, yDomain: [-0.6, 20.07], yTicks: g8Ticks, mean: g8Mean, color: "#ff1e00",
   khakiEven: g8KhakiEven, khakiOdd: g8KhakiOdd, grayEven: g8GrayEven, grayOdd: g8GrayOdd,
   words: g8Words, wordX: [145.3, 222.3], wordTop: 36.7, wordStep: 14.2},
  {title: "Group 9", col: 1, row: 0, yDomain: [-0.43, 13.76], yTicks: g9Ticks, mean: g9Mean, color: "#b2751b",
   khakiEven: g9KhakiEven, khakiOdd: g9KhakiOdd, grayEven: g9GrayEven, grayOdd: g9GrayOdd,
   words: g9Words, wordX: [88.7, 152.4, 216.4, 279.7], wordTop: 36, wordStep: 14.2},
  {title: "Group 10", col: 0, row: 1, yDomain: [-0.66, 18.37], yTicks: g10Ticks, mean: g10Mean, color: "#7470bb",
   khakiEven: g10KhakiEven, khakiOdd: g10KhakiOdd, grayEven: g10GrayEven, grayOdd: g10GrayOdd,
   words: g10Words, wordX: [132.3, 222.3], wordTop: 36.3, wordStep: 14.1},
  {title: "Group 11", col: 1, row: 1, yDomain: [-0.59, 16.6], yTicks: g11Ticks, mean: g11Mean, color: "#e25a0c",
   khakiEven: g11KhakiEven, khakiOdd: g11KhakiOdd, grayEven: g11GrayEven, grayOdd: g11GrayOdd,
   words: g11Words, wordX: [27, 157.4, 287.7], wordTop: 36.3, wordStep: 14.1},
  {title: "Group 12", col: 0, row: 2, yDomain: [-0.40, 11.23], yTicks: g12Ticks, mean: g12Mean, color: "#10aeea",
   khakiBand: [g12KhakiLow, g12KhakiHigh],
   khakiEven: g12KhakiEven, khakiOdd: g12KhakiOdd, grayEven: g12GrayEven, grayOdd: g12GrayOdd,
   words: g12Words, wordX: [7.3, 109, 210.6, 312.3], wordTop: 34.3, wordStep: 13.75},
  {title: "Group 13", col: 1, row: 2, yDomain: [-0.56, 15.9], yTicks: g13Ticks, mean: g13Mean, color: "#17a070",
   grayBand: [g13GrayLow, g13GrayHigh], khakiBand: [g13KhakiLow, g13KhakiHigh],
   khakiEven: g13KhakiEven, khakiOdd: g13KhakiOdd, grayEven: g13GrayEven, grayOdd: g13GrayOdd,
   words: g13Words, wordX: [389], wordTop: 30.6, wordStep: 14.2, wordAnchor: "end"}
];

// series on every category, or on every second category starting at `start`
function fullSeries(values) {
  return values.map(function(v, i) { return {c: categories[i], v: v}; });
}
function sampledSeries(values, start) {
  return values.map(function(v, j) { return {c: categories[start + 2 * j], v: v}; })
    .filter(function(d) { return d.c !== undefined; });
}
function bandSeries(band) {
  return band[0].map(function(lo, j) { return {c: categories[2 * j], lo: lo, hi: band[1][j]}; });
}

var tickCats = categories.filter(function(d, i) { return i % 2 === 0; });

var svg = d3.select("#my_dataviz")
  .append("svg")
  .attr("width", 913)
  .attr("height", 953);

panels.forEach(function(p, k) {
  var left = colLeft[p.col], top = rowTop[p.row], h = rowH[p.row];
  var g = svg.append("g").attr("transform", "translate(" + left + "," + top + ")");

  var x = d3.scalePoint().domain(categories).range([1.3, boxW - 1.7]);
  var y = d3.scaleLinear().domain(p.yDomain).range([h, 0]);

  g.append("clipPath").attr("id", "clip" + k)
    .append("rect").attr("width", boxW).attr("height", h);
  var plot = g.append("g").attr("clip-path", "url(#clip" + k + ")");

  var line = d3.line().x(function(d) { return x(d.c); }).y(function(d) { return y(d.v); });
  var area = d3.area().x(function(d) { return x(d.c); })
    .y0(function(d) { return y(d.lo); }).y1(function(d) { return y(d.hi); });

  // gray word lines
  if (p.grayBand) {
    plot.append("path").datum(bandSeries(p.grayBand)).attr("d", area).attr("fill", grayColor);
  }
  var grays = p.grayEven.map(function(v) { return sampledSeries(v, 0); })
    .concat(p.grayOdd.map(function(v) { return sampledSeries(v, 1); }));
  plot.selectAll(".gray").data(grays).enter().append("path")
    .attr("class", "gray")
    .attr("d", line)
    .attr("fill", "none")
    .attr("stroke", grayColor)
    .attr("stroke-width", 1)
    .attr("stroke-dasharray", function(d, i) { return grayDash[i % 3]; });

  // khaki group words
  if (p.khakiBand) {
    plot.append("path").datum(bandSeries(p.khakiBand)).attr("d", area).attr("fill", khakiColor);
  }
  var khakis = p.khakiEven.map(function(v) { return sampledSeries(v, 0); })
    .concat(p.khakiOdd.map(function(v) { return sampledSeries(v, 1); }));
  plot.selectAll(".khaki").data(khakis).enter().append("path")
    .attr("class", "khaki")
    .attr("d", line)
    .attr("fill", "none")
    .attr("stroke", khakiColor)
    .attr("stroke-width", 2)
    .attr("stroke-linejoin", "round");

  // group mean
  plot.append("path").datum(fullSeries(p.mean))
    .attr("d", line)
    .attr("fill", "none")
    .attr("stroke", p.color)
    .attr("stroke-width", 3)
    .attr("stroke-linejoin", "round");

  // box
  g.append("rect").attr("width", boxW).attr("height", h)
    .attr("fill", "none").attr("stroke", "#000").attr("stroke-width", 1);

  // y axis
  var yAxis = g.append("g")
    .call(d3.axisLeft(y).tickValues(p.yTicks).tickSize(3.5))
    .attr("font-family", fontFamily).attr("font-size", 8.5);
  yAxis.select(".domain").remove();
  yAxis.selectAll("text")
    .attr("x", 0).attr("dy", 0)
    .attr("text-anchor", "middle")
    .attr("transform", "translate(-5,0) rotate(-90)");

  // x axis
  var xAxis = g.append("g")
    .attr("transform", "translate(0," + h + ")")
    .call(d3.axisBottom(x).tickValues(tickCats).tickSize(3.5))
    .attr("font-family", fontFamily).attr("font-size", 8.5);
  xAxis.select(".domain").remove();
  xAxis.selectAll("text")
    .attr("x", 0).attr("y", 0).attr("dy", 0)
    .attr("text-anchor", "end")
    .attr("transform", "translate(3,5) rotate(-90)");

  // titles
  g.append("text")
    .attr("x", boxW / 2).attr("y", 14.6)
    .attr("text-anchor", "middle")
    .style("font-size", "13px")
    .text(p.title);
  g.append("text")
    .attr("x", boxW / 2 + 6.5).attr("y", h + 53)
    .attr("text-anchor", "middle")
    .style("font-size", "16px")
    .text("volume/year");
  g.append("text")
    .attr("transform", "translate(-27," + 139 + ") rotate(-90)")
    .attr("text-anchor", "middle")
    .style("font-size", "16px")
    .text("relative frequency");

  // word lists
  p.words.forEach(function(col, ci) {
    g.selectAll(".w" + ci).data(col).enter().append("text")
      .attr("x", p.wordX[ci])
      .attr("y", function(d, ri) { return p.wordTop + ri * p.wordStep; })
      .attr("text-anchor", p.wordAnchor || "start")
      .attr("fill", wordColor)
      .style("font-size", "12.6px")
      .text(function(d) { return d; });
  });
});
</script>
</body>
</html>
